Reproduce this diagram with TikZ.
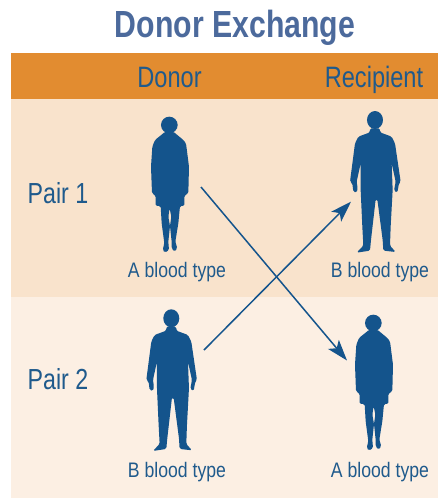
\documentclass[tikz,border=0pt]{standalone}
\usepackage{fontspec}
\usetikzlibrary{arrows.meta}
\setmainfont[FakeStretch=0.80]{Liberation Sans}
\newfontfamily\labfont[FakeStretch=0.84]{Liberation Sans}
\definecolor{figblue}{HTML}{14548C}
\definecolor{txtblue}{HTML}{1F5A8C}
\definecolor{titleblue}{HTML}{4C6A9C}
\definecolor{bandor}{HTML}{E28C30}
\definecolor{bandone}{HTML}{F9E3CC}
\definecolor{bandtwo}{HTML}{FCEFE3}
\tikzset{
 hdr/.style={text=txtblue,font=\fontsize{29.5}{31}\selectfont,inner sep=0pt,anchor=base},
 lab/.style={text=txtblue,font=\labfont\fontsize{21}{24}\selectfont,inner sep=0pt,anchor=base},
 pairlab/.style={text=txtblue,font=\fontsize{29}{31}\selectfont,inner sep=0pt,anchor=base},
 link/.style={draw=figblue,line width=1.5pt,-{Stealth[length=21pt,width=14pt,inset=5pt]}},
 sil/.style={fill=figblue,draw=none,rounded corners=1.5pt}
}
\newcommand{\womanfig}[2]{%
 \begin{scope}[shift={(#1,#2)},x=0.3333pt,y=-0.3333pt]
  \fill[figblue] (148,75) circle[radius=25];
  \fill[sil] (136,95)--(105,120)--(97,140)--(93,200)--(96,280)--(107,287)--(107,318)--(122,318)--(125,370)--(133,430)--(128,450)--(135,458)--(147,450)--(145,425)--(150,378)--(145,350)--(149,325)--(154,350)--(150,378)--(155,425)--(155,445)--(163,455)--(172,445)--(166,425)--(175,370)--(180,318)--(193,318)--(193,287)--(205,280)--(207,200)--(198,130)--(190,120)--(160,95)--cycle;
 \end{scope}}
\newcommand{\manfig}[2]{%
 \begin{scope}[shift={(#1,#2)},x=0.3333pt,y=-0.3333pt]
  \fill[figblue] (165,60) ellipse[x radius=24,y radius=27];
  \fill[sil] (150,85)--(150,97)--(115,110)--(105,130)--(90,245)--(97,250)--(100,275)--(110,278)--(113,265)--(110,245)--(122,190)--(122,270)--(127,380)--(130,437)--(110,458)--(150,452)--(153,420)--(167,298)--(172,298)--(188,420)--(190,452)--(227,456)--(210,437)--(212,380)--(218,270)--(215,190)--(227,245)--(222,272)--(232,278)--(237,250)--(242,245)--(225,130)--(215,110)--(180,97)--(180,85)--cycle;
 \end{scope}}
\begin{document}
\begin{tikzpicture}[x=1pt,y=-1pt]
\useasboundingbox (0,0) rectangle (438,498);
\fill[bandor] (11,53) rectangle (438,99);
\fill[bandone] (11,99) rectangle (438,297);
\fill[bandtwo] (11,297) rectangle (438,498);
\node[text=titleblue,inner sep=0pt,anchor=base,font=\fontsize{37.8}{40}\selectfont\bfseries] (title) at (235,37) {Donor Exchange};
\node[hdr] (hdonor) at (169.5,87) {Donor};
\node[hdr] (hrecip) at (374,87) {Recipient};
\node[pairlab] (pone) at (58,203) {Pair 1};
\node[pairlab] (ptwo) at (58,389) {Pair 2};
\womanfig{120}{100}
\manfig{320}{100}
\manfig{116.3}{298.3}
\womanfig{324}{298}
\node[lab] (la) at (177,277) {A blood type};
\node[lab] (lb) at (380,277) {B blood type};
\node[lab] (lc) at (177,477) {B blood type};
\node[lab] (ld) at (380,477) {A blood type};
\coordinate (s1) at (201,187);
\coordinate (e1) at (347,360.5);
\coordinate (s2) at (204,350);
\coordinate (e2) at (351,201.7);
\draw[link] (s1) -- (e1);
\draw[link] (s2) -- (e2);
\end{tikzpicture}
\end{document}
